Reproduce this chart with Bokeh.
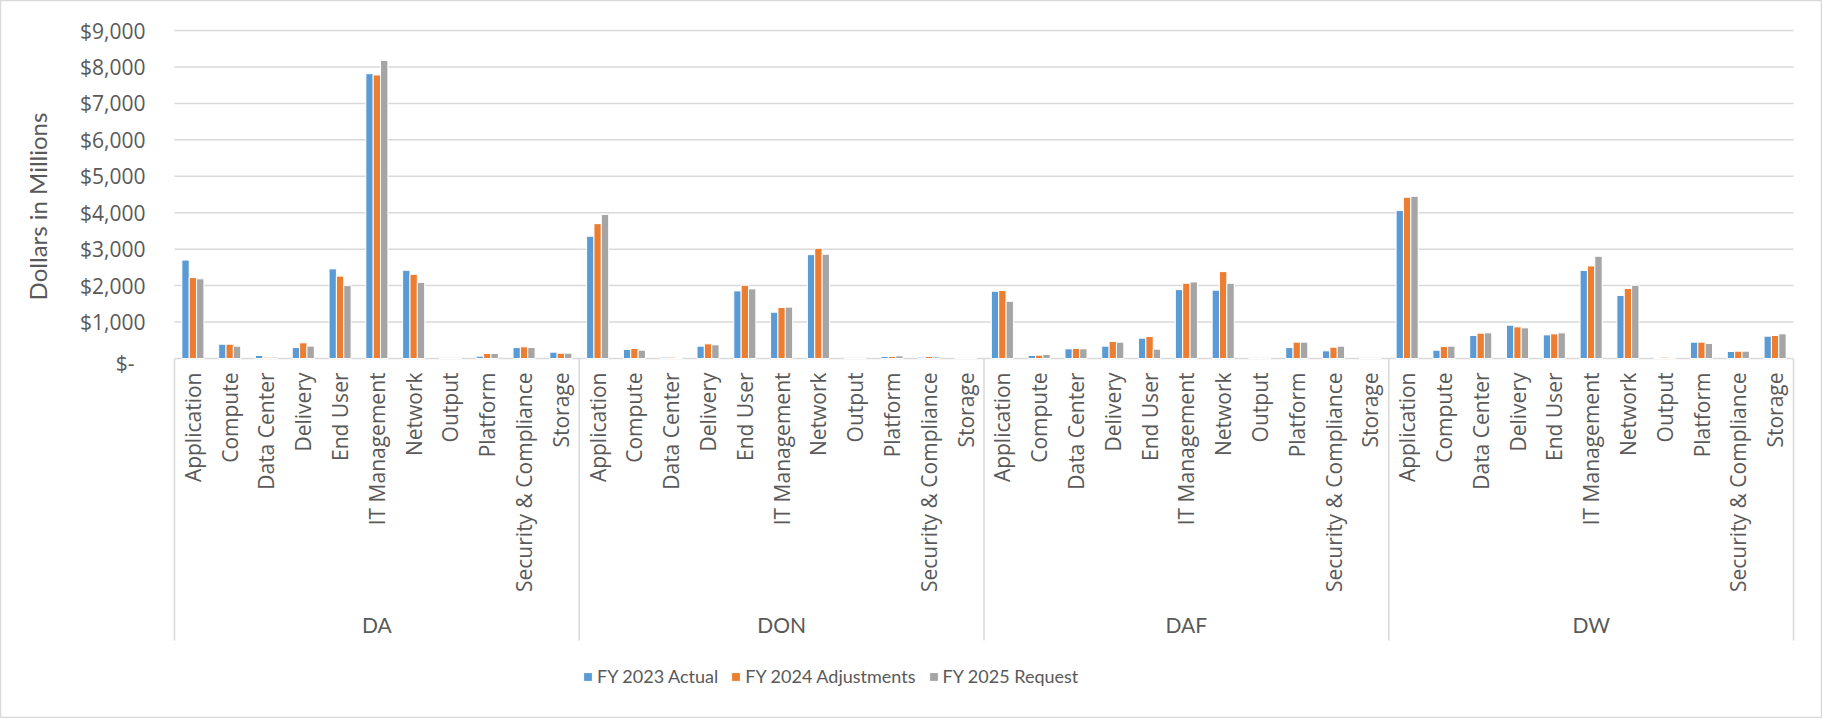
import math
from bokeh.plotting import figure
from bokeh.models import ColumnDataSource, Range1d, Legend, LegendItem
from bokeh.transform import dodge
from bokeh.core.properties import value
from bokeh.embed import file_html
from bokeh.resources import INLINE

# ---------------- data ----------------
groups = ["DA", "DON", "DAF", "DW"]
categories = ["Application", "Compute", "Data Center", "Delivery", "End User",
              "IT Management", "Network", "Output", "Platform",
              "Security & Compliance", "Storage"]

series_names = ["FY 2023 Actual", "FY 2024 Adjustments", "FY 2025 Request"]

# values in $ millions, 11 categories per group (DA, DON, DAF, DW)
fy2023_actual = [
    2700, 393, 82, 300, 2460, 7815, 2420, 0, 64, 300, 174,      # DA
    3355, 247, 37, 338, 1855, 1270, 2850, 0, 55, 37, 12,        # DON
    1845, 82, 265, 338, 558, 1890, 1875, 15, 300, 210, 0,       # DAF
    4060, 228, 631, 914, 649, 2415, 1730, 27, 448, 192, 612,    # DW
]
fy2024_adjustments = [
    2220, 393, 37, 430, 2260, 7780, 2310, 0, 137, 320, 146,
    3700, 274, 37, 402, 2010, 1400, 3025, 0, 55, 55, 12,
    1865, 91, 274, 466, 603, 2065, 2385, 30, 448, 310, 0,
    4425, 329, 695, 868, 676, 2540, 1920, 37, 448, 201, 631,
]
fy2025_request = [
    2185, 338, 37, 340, 2000, 8180, 2090, 0, 137, 300, 146,
    3950, 228, 27, 375, 1910, 1410, 2860, 0, 73, 46, 12,
    1570, 110, 265, 448, 256, 2100, 2065, 0, 448, 338, 0,
    4450, 338, 704, 841, 704, 2805, 2010, 0, 411, 201, 676,
]

tick_values = [0, 1000, 2000, 3000, 4000, 5000, 6000, 7000, 8000, 9000]
tick_labels = ["$-", "$1,000", "$2,000", "$3,000", "$4,000", "$5,000",
               "$6,000", "$7,000", "$8,000", "$9,000"]

# ---------------- layout (pixels) ----------------
W, H = 1822, 718
PLOT_L, PLOT_R = 174, 1793      # plot area left/right
PLOT_T, PLOT_B = 30, 358        # y of top tick / baseline

COLORS = ["#5B9BD5", "#ED7D31", "#A5A5A5"]
TEXT = "#595959"
GRID = "#D9D9D9"
FONT_MAIN = "Open Sans"
FONT_ALT = "Lato"

n_cat = len(categories)
n_all = n_cat * len(groups)
px_x = (PLOT_R - PLOT_L) / n_all                  # px per category slot
px_y = (PLOT_B - PLOT_T) / tick_values[-1]        # px per $1M

x_range = Range1d(-PLOT_L / px_x, n_all + (W - PLOT_R) / px_x)
y_range = Range1d(-(H - PLOT_B) / px_y, tick_values[-1] + PLOT_T / px_y)

p = figure(width=W, height=H, x_range=x_range, y_range=y_range,
           x_axis_type=None, y_axis_type=None,
           output_backend="svg", toolbar_location=None,
           min_border=0, min_border_left=0, min_border_right=0,
           min_border_top=0, min_border_bottom=0)
p.grid.visible = False
p.outline_line_color = GRID
p.outline_line_width = 1.5
p.background_fill_color = "white"
p.border_fill_color = "white"

src = ColumnDataSource(dict(
    xc=[i + 0.5 for i in range(n_all)],
    cat=[c for g in groups for c in categories],
    s0=fy2023_actual, s1=fy2024_adjustments, s2=fy2025_request,
))

# gridlines (incl. baseline)
p.segment(x0=0, x1=n_all, y0=tick_values, y1=tick_values,
          line_color=GRID, line_width=1.5)

# y tick labels (accounting style: "$-" sits left of the digit column)
label_dx = [-40 if t == "$-" else -29 for t in tick_labels]
label_dy = [4 if t == "$-" else 0 for t in tick_labels]
p.text(x=0, y=tick_values, text=tick_labels, x_offset=label_dx,
       y_offset=label_dy, text_align="right", text_baseline="middle",
       text_font=value(FONT_MAIN), text_font_size="21px", text_color=TEXT)

# bars
renderers = []
for i, off in enumerate([-0.2, 0.0, 0.2]):
    r = p.vbar(x=dodge("xc", off), top=f"s{i}", width=0.2, bottom=0,
               source=src, fill_color=COLORS[i], line_color="white",
               line_width=1)
    renderers.append(r)

# group separators at group boundaries
bounds = [i * n_cat for i in range(len(groups) + 1)]
p.ray(x=bounds, y=0, length=282, length_units="screen", angle=-math.pi / 2,
      line_color=GRID, line_width=1.5)

# category labels (rotated)
p.text(x="xc", y=0, text="cat", source=src, y_offset=14, angle=math.pi / 2,
       text_align="right", text_baseline="middle",
       text_font=value(FONT_MAIN), text_font_size="21px", text_color=TEXT)

# group labels
p.text(x=[i * n_cat + n_cat / 2 for i in range(len(groups))], y=0,
       text=groups, y_offset=266, text_align="center", text_baseline="middle",
       text_font=value(FONT_ALT), text_font_size="21px", text_color=TEXT)

# y axis title
p.text(x=0, y=0, text=["Dollars in Millions"], x_offset=-137, y_offset=-152,
       angle=math.pi / 2, text_align="center", text_baseline="middle",
       text_font=value(FONT_ALT), text_font_size="24px", text_color=TEXT)

legend = Legend(
    items=[LegendItem(label=nm, renderers=[r]) for nm, r in zip(series_names, renderers)],
    orientation="horizontal", location=(582, 31), padding=0, margin=0,
    spacing=12, label_standoff=4, glyph_width=11, glyph_height=11,
    border_line_color=None, background_fill_alpha=0,
    label_text_font=FONT_ALT, label_text_font_size="18px",
    label_text_color=TEXT,
)
p.add_layout(legend)

open("out.html", "w").write(file_html(p, INLINE))
